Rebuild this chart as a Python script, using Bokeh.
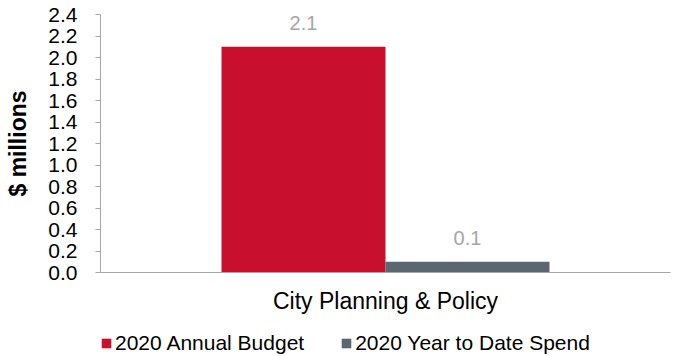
from bokeh.plotting import figure
from bokeh.layouts import column
from bokeh.models import (ColumnDataSource, Legend, LegendItem, Range1d, FactorRange,
                          FixedTicker, CustomJSTickFormatter)
from bokeh.transform import dodge
from bokeh.embed import file_html
from bokeh.resources import INLINE

categories = ["City Planning & Policy"]
budget = [2.1]
spend = [0.1]
series_names = ["2020 Annual Budget", "2020 Year to Date Spend"]
y_ticks = [0.0, 0.2, 0.4, 0.6, 0.8, 1.0, 1.2, 1.4, 1.6, 1.8, 2.0, 2.2, 2.4]
colors = ["#C8102E", "#5B6770"]

FONT = "Liberation Sans"
bw = 0.2877

src = ColumnDataSource(dict(cat=categories, budget=budget, spend=spend,
                            blab=[f"{v:.1f}" for v in budget],
                            slab=[f"{v:.1f}" for v in spend]))

# ---------------- main chart ----------------
p = figure(x_range=FactorRange(*categories), y_range=Range1d(0, 2.4),
           frame_width=570, frame_height=258,
           output_backend="svg", toolbar_location=None,
           min_border_left=100, min_border_top=14, min_border_right=7, min_border_bottom=44)
p.outline_line_color = None
p.grid.grid_line_color = None
p.background_fill_color = "white"

p.vbar(x=dodge("cat", -bw / 2, range=p.x_range), top="budget", width=bw, source=src,
       fill_color=colors[0], line_color=None)
p.vbar(x=dodge("cat", bw / 2, range=p.x_range), top="spend", width=bw, source=src,
       fill_color=colors[1], line_color=None)

for col, lab, off in (("budget", "blab", -bw / 2), ("spend", "slab", bw / 2)):
    p.text(x=dodge("cat", off, range=p.x_range), y=col, text=lab, source=src,
           text_align="center", text_baseline="alphabetic", y_offset=-24,
           text_font_size="20px", text_color="#A6A6A6", text_font={"value": FONT})

ya = p.yaxis[0]
ya.ticker = FixedTicker(ticks=y_ticks)
ya.formatter = CustomJSTickFormatter(code="return tick.toFixed(1);")
ya.axis_line_color = "#A6A6A6"
ya.major_tick_line_color = "#A6A6A6"
ya.major_tick_out = 5
ya.major_tick_in = 0
ya.minor_tick_line_color = None
ya.major_label_text_font = FONT
ya.major_label_text_font_size = "21px"
ya.major_label_text_color = "#000000"
ya.major_label_standoff = 18
ya.axis_label = "$ millions"
ya.axis_label_text_font = FONT
ya.axis_label_text_font_size = "23px"
ya.axis_label_text_font_style = "bold"
ya.axis_label_text_color = "#000000"
ya.axis_label_standoff = 14

xa = p.xaxis[0]
xa.axis_line_color = "#A6A6A6"
xa.major_tick_line_color = None
xa.major_tick_out = 0
xa.major_label_text_font = FONT
xa.major_label_text_font_size = "23px"
xa.major_label_text_color = "#000000"
xa.major_label_standoff = 15

# ---------------- legend strip ----------------
lg = figure(x_range=FactorRange(*categories), y_range=Range1d(10, 11),
            width=677, height=40, output_backend="svg", toolbar_location=None,
            x_axis_location=None, y_axis_location=None,
            min_border=0, min_border_left=0, min_border_right=0,
            min_border_top=0, min_border_bottom=0)
lg.outline_line_color = None
lg.grid.grid_line_color = None
g1 = lg.vbar(x="cat", top="budget", width=bw, source=src,
             fill_color=colors[0], line_color=None)
g2 = lg.vbar(x="cat", top="spend", width=bw, source=src,
             fill_color=colors[1], line_color=None)

legend = Legend(items=[LegendItem(label=series_names[0], renderers=[g1]),
                       LegendItem(label=series_names[1], renderers=[g2])],
                orientation="horizontal", location=(0, 1),
                label_text_font=FONT, label_text_font_size="21px",
                label_text_color="#000000", glyph_width=12, glyph_height=12,
                label_standoff=3, spacing=36, border_line_color=None,
                background_fill_alpha=0, padding=0, margin=0)
lg.add_layout(legend, "center")

layout = column(p, lg, spacing=0)
open("out.html", "w").write(file_html(layout, INLINE))
